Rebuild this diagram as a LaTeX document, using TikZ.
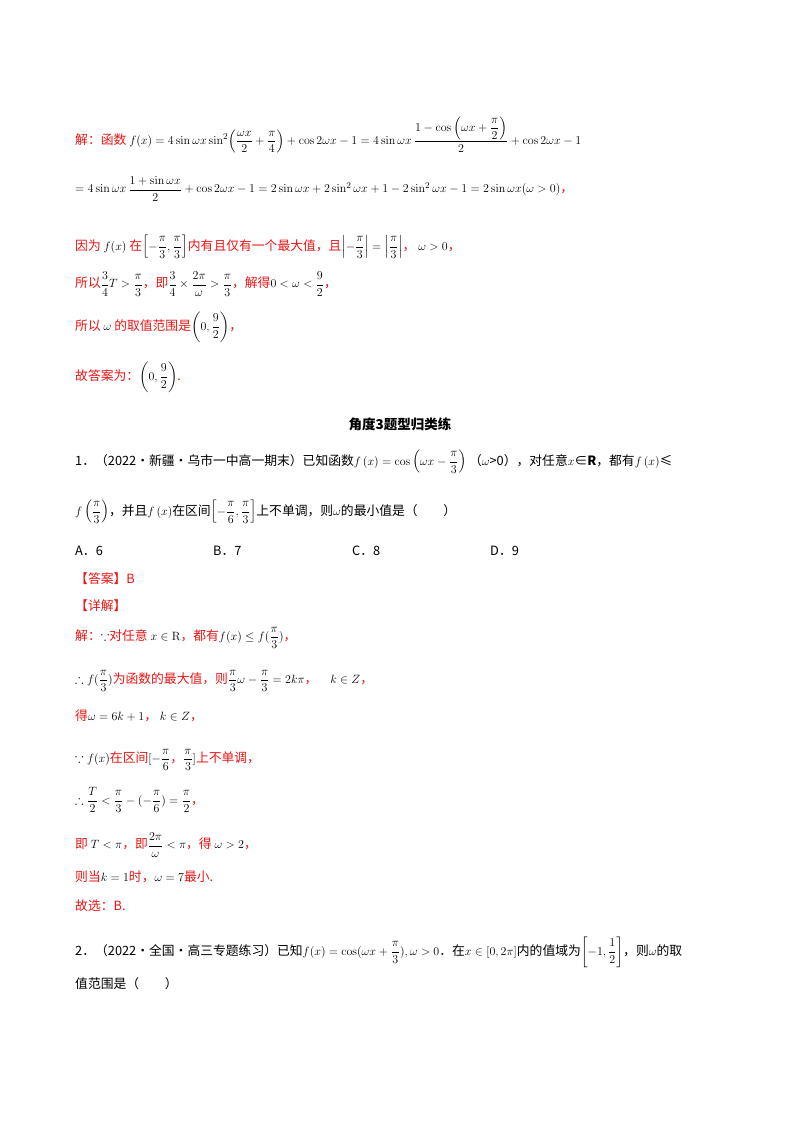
\documentclass[tikz,border=0pt]{standalone}
\usepackage{amsmath,amssymb}
\usepackage[no-math]{fontspec}
\setmainfont{Noto Sans CJK SC}
\definecolor{rd}{RGB}{235,20,20}
\newcommand{\R}[1]{\textcolor{rd}{#1}}
\begin{document}
\begin{tikzpicture}[x=1pt,y=-1pt,every node/.style={anchor=west,inner sep=0pt,font=\fontsize{12.8}{15}\selectfont}]
\useasboundingbox (0,0) rectangle (800,1132);
\node (l1) at (75,135) {\R{解：函数} $f(x)=4\sin\omega x\sin^2\!\left(\dfrac{\omega x}{2}+\dfrac{\pi}{4}\right)+\cos2\omega x-1=4\sin\omega x\,\dfrac{1-\cos\left(\omega x+\dfrac{\pi}{2}\right)}{2}+\cos2\omega x-1$};
\node (l2) at (75,189) {$=4\sin\omega x\,\dfrac{1+\sin\omega x}{2}+\cos2\omega x-1=2\sin\omega x+2\sin^2\omega x+1-2\sin^2\omega x-1=2\sin\omega x(\omega>0)$\R{，}};
\node (l3) at (75,247) {\R{因为} $f(x)$ \R{在}$\left[-\dfrac{\pi}{3},\dfrac{\pi}{3}\right]$\R{内有且仅有一个最大值，且}$\left|-\dfrac{\pi}{3}\right|=\left|\dfrac{\pi}{3}\right|$\R{，} $\omega>0$\R{，}};
\node (l4) at (75,284) {\R{所以}$\dfrac34T>\dfrac{\pi}{3}$\R{，即}$\dfrac34\times\dfrac{2\pi}{\omega}>\dfrac{\pi}{3}$\R{，解得}$0<\omega<\dfrac92$\R{，}};
\node (l5) at (75,327) {\R{所以} $\omega$ \R{的取值范围是}$\left(0,\dfrac92\right)$\R{，}};
\node (l6) at (75,377) {\R{故答案为：}$\left(0,\dfrac92\right)$\R{.}};
\node[anchor=center,font=\fontsize{13.5}{16}\selectfont\bfseries] (h) at (400,424) {角度3题型归类练};
\node (q1) at (75,462) {1．（2022·新疆·乌市一中高一期末）已知函数$f\left(x\right)=\cos\left(\omega x-\dfrac{\pi}{3}\right)$ （$\omega$>0），对任意$x$∈\textbf{R}，都有$f\left(x\right)$≤};
\node (q1b) at (75,512) {$f\left(\dfrac{\pi}{3}\right)$，并且$f\left(x\right)$在区间$\left[-\dfrac{\pi}{6},\dfrac{\pi}{3}\right]$上不单调，则$\omega$的最小值是（\quad\quad）};
\node (oa) at (75,551) {A．6};
\node (ob) at (213,551) {B．7};
\node (oc) at (352,551) {C．8};
\node (od) at (490,551) {D．9};
\node (ans) at (75,579) {\R{【答案】B}};
\node (det) at (75,606) {\R{【详解】}};
\node (s1) at (75,638) {\R{解：}$\because$\R{对任意} $x\in\mathrm{R}$\R{，都有}$f(x)\le f(\dfrac{\pi}{3})$\R{，}};
\node (s2) at (75,681) {$\therefore f(\dfrac{\pi}{3})$\R{为函数的最大值，则}$\dfrac{\pi}{3}\omega-\dfrac{\pi}{3}=2k\pi$\R{，}\quad$k\in Z$\R{，}};
\node (s3) at (75,716) {\R{得}$\omega=6k+1$\R{，}\ $k\in Z$\R{，}};
\node (s4) at (75,760) {$\because f(x)$\R{在区间}$[-\dfrac{\pi}{6}$\R{，}$\dfrac{\pi}{3}]$\R{上不单调，}};
\node (s5) at (75,800) {$\therefore\dfrac{T}{2}<\dfrac{\pi}{3}-(-\dfrac{\pi}{6})=\dfrac{\pi}{2}$\R{，}};
\node (s6) at (75,845) {\R{即} $T<\pi$\R{，即}$\dfrac{2\pi}{\omega}<\pi$\R{，得} $\omega>2$\R{，}};
\node (s7) at (75,877) {\R{则当}$k=1$\R{时，}$\omega=7$\R{最小.}};
\node (s8) at (75,906) {\R{故选：B.}};
\node (q2) at (75,952) {2．（2022·全国·高三专题练习）已知$f(x)=\cos(\omega x+\dfrac{\pi}{3}),\omega>0$．在$x\in\left[0,2\pi\right]$内的值域为$\left[-1,\dfrac12\right]$，则$\omega$的取};
\node (q2b) at (75,984) {值范围是（\quad\quad）};
\end{tikzpicture}
\end{document}
